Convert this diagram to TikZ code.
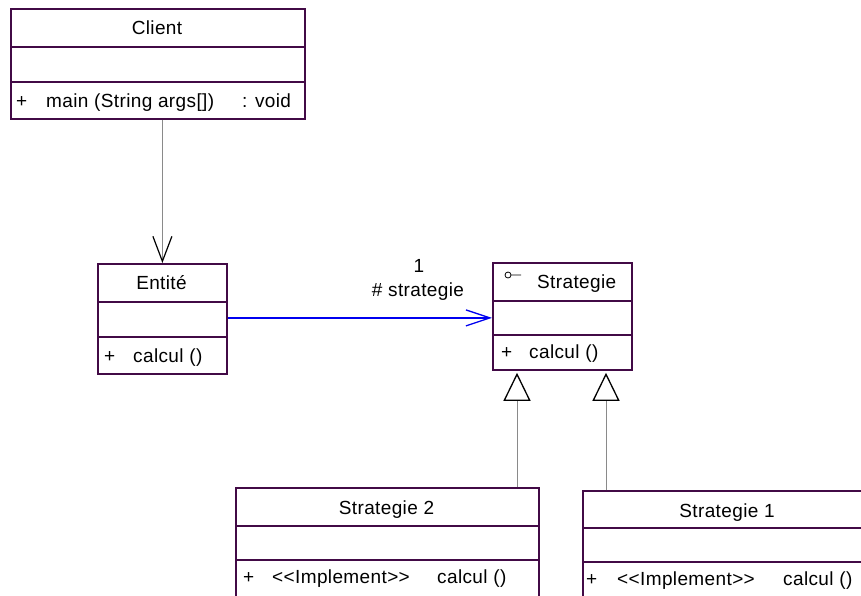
\documentclass[tikz,border=0pt]{standalone}
\usepackage{fontspec}
\setmainfont{Liberation Sans}[LetterSpace=2]
\usetikzlibrary{arrows.meta,calc}
\definecolor{umlborder}{HTML}{420A46}
\definecolor{navblue}{HTML}{0000F0}
\definecolor{linkgray}{HTML}{8A8A8A}
\tikzset{
  umlbox/.style={draw=umlborder, line width=1.8pt, anchor=north west, inner sep=0pt, fill=white},
  divider/.style={draw=umlborder, line width=1.8pt},
  lbl/.style={inner sep=0pt, font=\fontsize{19}{22}\selectfont},
  dep/.style={draw=linkgray, line width=1pt, -{Straight Barb[length=25pt,width=19pt,color=black,line width=1.2pt]}},
  nav/.style={draw=navblue, line width=1.3pt, -{Straight Barb[length=24pt,width=16pt,line width=1.3pt]}},
  gen/.style={draw=linkgray, line width=0.8pt, -{Triangle[open,length=28pt,width=27pt,color=black,line width=1.3pt]}}
}
\begin{document}
\begin{tikzpicture}[x=1pt,y=-1pt]
\useasboundingbox (0,0) rectangle (861,595);
\clip (0,0) rectangle (861,595);
\fill[white] (0,0) rectangle (861,595);

% Client class
\node[umlbox, minimum width=294pt, minimum height=110pt] (client) at (10,8) {};
\draw[divider] (10,47) -- (305,47);
\draw[divider] (10,82) -- (305,82);
\node[lbl, anchor=base] (clientname) at (157,34) {Client};
\node[lbl, anchor=base west] (clientplus) at (16,107) {+};
\node[lbl, anchor=base west] (clientop) at (46,107) {main (String args[])};
\node[lbl, anchor=base west] (clienttype) at (242,107) {: void};

% Entite class
\node[umlbox, minimum width=129pt, minimum height=110pt] (entite) at (97,263) {};
\draw[divider] (97,302) -- (227,302);
\draw[divider] (97,337) -- (227,337);
\node[lbl, anchor=base] (entitename) at (161.5,289) {Entité};
\node[lbl, anchor=base west] (entiteplus) at (104,362) {+};
\node[lbl, anchor=base west] (entiteop) at (133,362) {calcul ()};

% Strategie interface
\node[umlbox, minimum width=139pt, minimum height=107pt] (strategie) at (492,262) {};
\draw[divider] (492,301) -- (632,301);
\draw[divider] (492,335) -- (632,335);
\node[lbl, anchor=base west] (strategiename) at (537,288) {Strategie};
\draw[line width=0.8pt] (508,275) circle (3pt) (511,275) -- (521,275);
\node[lbl, anchor=base west] (strategieplus) at (501,358) {+};
\node[lbl, anchor=base west] (strategieop) at (529,358) {calcul ()};

% Strategie 2 class
\node[umlbox, minimum width=303pt, minimum height=130pt] (strat2) at (235,487) {};
\draw[divider] (235,526) -- (539,526);
\draw[divider] (235,560) -- (539,560);
\node[lbl, anchor=base] (strat2name) at (386.5,514) {Strategie 2};
\node[lbl, anchor=base west] (strat2plus) at (243,583) {+};
\node[lbl, anchor=base west] (strat2impl) at (272,583) {<{}<Implement>{}>};
\node[lbl, anchor=base west] (strat2op) at (437,583) {calcul ()};

% Strategie 1 class
\node[umlbox, minimum width=290pt, minimum height=130pt] (strat1) at (582,490) {};
\draw[divider] (582,528) -- (872,528);
\draw[divider] (582,562) -- (872,562);
\node[lbl, anchor=base] (strat1name) at (727,517) {Strategie 1};
\node[lbl, anchor=base west] (strat1plus) at (586,585) {+};
\node[lbl, anchor=base west] (strat1impl) at (617,585) {<{}<Implement>{}>};
\node[lbl, anchor=base west] (strat1op) at (783,585) {calcul ()};

% Client depends on Entite
\draw[dep] (client.south -| entite.north) -- (entite.north);

% Entite navigates to Strategie
\coordinate (navend) at (entite.east -| strategie.west);
\draw[nav] ($(entite.east)+(0,-1)$) -- ($(navend)+(0,-1)$);
\node[lbl, anchor=base] (mult) at (419,272) {1};
\node[lbl, anchor=base] (role) at (418,296) {\# strategie};

% Realisations of Strategie
\coordinate (g2) at (517,0);
\coordinate (g1) at (606,0);
\draw[gen] (g2 |- strat2.north) -- ($(g2 |- strategie.south)+(0,2)$);
\draw[gen] (g1 |- strat1.north) -- ($(g1 |- strategie.south)+(0,2)$);
\end{tikzpicture}
\end{document}
